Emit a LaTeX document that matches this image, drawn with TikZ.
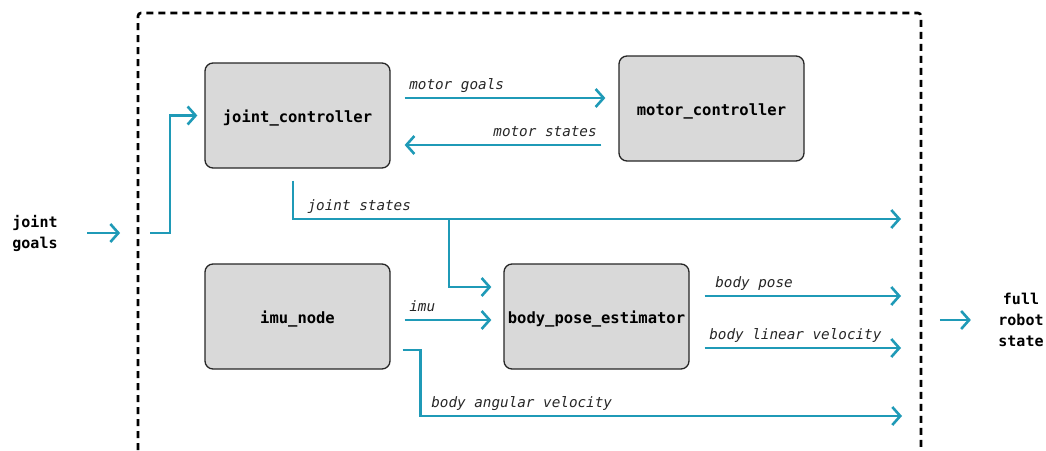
\documentclass[tikz,border=0pt]{standalone}
\usepackage{fontspec}
\setmonofont{DejaVu Sans Mono}
\usepackage{xcolor}
\definecolor{mteal}{HTML}{1F9AB7}
\definecolor{mgray}{HTML}{D9D9D9}
\usetikzlibrary{arrows.meta}

\begin{document}
\begin{tikzpicture}[x=1pt, y=-1pt,
    block/.style={draw=black!85, line width=1.3pt, fill=mgray, rounded corners=8pt,
        minimum width=185pt, minimum height=105pt, text height=14pt, text depth=1pt,
        font=\ttfamily\bfseries\fontsize{15.5}{18}\selectfont},
    flow/.style={draw=mteal, line width=2.6pt, -{Straight Barb[length=8pt, width=18pt]}},
    lbl/.style={font=\ttfamily\itshape\fontsize{14.3}{17}\selectfont, text=black!85,
        text height=11pt, text depth=3.5pt, inner ysep=4pt},
    port/.style={font=\ttfamily\bfseries\fontsize{15}{21}\selectfont, align=center}]

            \useasboundingbox (0,0) rectangle (1046,450);

            % system boundary
            \draw[line width=2.6pt, dash pattern=on 7pt off 5pt, rounded corners=3pt]
                (138,450) -- (138,13) -- (921,13) -- (921,450);

            \node[block] (jc) at (297.5,115.5) {joint\_controller};
            \node[block] (mc) at (711.5,108.5) {motor\_controller};
            \node[block] (imu) at (297.5,316.5) {imu\_node};
            \node[block] (bpe) at (596.5,316.5) {body\_pose\_estimator};

            \node[port] (jg) at (35,233) {joint\\goals};
            \node[port] (frs) at (1021,320) {full\\robot\\state};

            \coordinate (inport) at (150,233);
            \coordinate (jsfork) at (449,219);
            \coordinate (jsout) at (901,219);
            \coordinate (poseout) at (901,296);
            \coordinate (linout) at (901,348);
            \coordinate (angout) at (902,416);

            \draw[flow] ([xshift=26pt]jg.east) -- ([xshift=59pt]jg.east);
            \draw[flow] (inport) -- ++(20,0) |- ([xshift=-7pt]jc.west);

            \draw[flow] ([shift={(14,-17.5)}]jc.east) -- ([shift={(-13,-10.5)}]mc.west)
                node[lbl, pos=0, above right]{motor goals};
            \draw[flow] ([shift={(-17,36.5)}]mc.west) -- ([shift={(14,29.5)}]jc.east)
                node[lbl, pos=0, above left]{motor states};

            \draw[flow] ([shift={(-4.5,12)}]jc.south) |- (jsout)
                node[lbl, pos=0.5, above right, xshift=10pt]{joint states};
            \draw[flow] (jsfork) |- ([shift={(-12,-29.5)}]bpe.west);

            \draw[flow] ([shift={(14,3.5)}]imu.east) -- ([shift={(-12,3.5)}]bpe.west)
                node[lbl, pos=0, above right]{imu};
            \draw[flow] ([shift={(12,33.5)}]imu.east) -- ++(18,0) |- (angout)
                node[lbl, pos=0.5, above right, xshift=6pt]{body angular velocity};

            \draw[flow] ([shift={(15,-20.5)}]bpe.east) -- (poseout)
                node[lbl, pos=0, above right, xshift=6pt]{body pose};
            \draw[flow] ([shift={(15,31.5)}]bpe.east) -- (linout)
                node[lbl, pos=0, above right]{body linear velocity};

            \draw[flow] ([xshift=-55pt]frs.west) -- ([xshift=-24pt]frs.west);

          \end{tikzpicture}
\end{document}
